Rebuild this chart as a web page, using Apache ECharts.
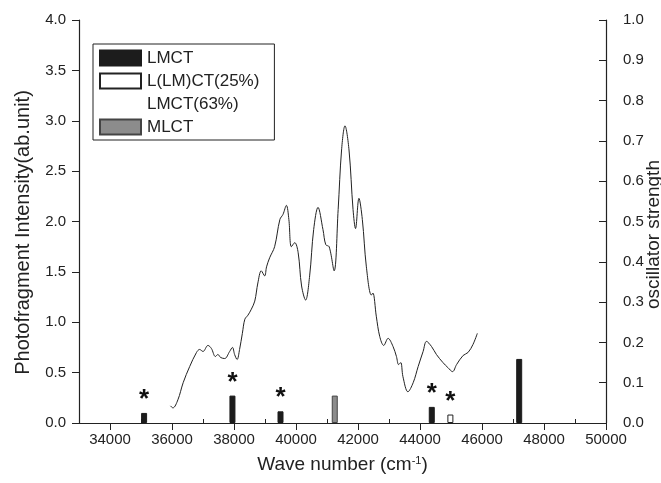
<!DOCTYPE html>
<html>
<head>
<meta charset="utf-8">
<script src="https://cdn.jsdelivr.net/npm/echarts@6/dist/echarts.min.js"></script>
<style>
  html, body { margin: 0; padding: 0; background: #fff; }
  #chart { width: 661px; height: 483px; }
</style>
</head>
<body>
<div id="chart"></div>
<script>
// photofragment spectrum (left axis)
const waveNumbers = [35950, 36030, 36190, 36360, 36570, 36790, 36890, 37000, 37160, 37270,
  37400, 37480, 37570, 37700, 37860, 37950, 38020, 38100, 38180, 38270,
  38350, 38450, 38560, 38670, 38770, 38880, 38990, 39050, 39150, 39310,
  39480, 39580, 39690, 39770, 39850, 39960, 40070, 40180, 40310, 40440,
  40570, 40710, 40870, 40960, 41070, 41230, 41360, 41470, 41580, 41710,
  41840, 41920, 42030, 42140, 42270, 42430, 42480, 42590, 42700, 42830,
  42970, 43130, 43240, 43310, 43380, 43450, 43610, 43780, 43940, 44100,
  44210, 44370, 44530, 44740, 44900, 45050, 45180, 45390, 45550, 45710,
  45850]
const intensity = [0.17, 0.15, 0.23, 0.40, 0.56, 0.70, 0.73, 0.71, 0.77, 0.74,
  0.66, 0.68, 0.65, 0.64, 0.71, 0.75, 0.68, 0.63, 0.73, 0.89,
  1.03, 1.07, 1.13, 1.21, 1.39, 1.51, 1.46, 1.55, 1.64, 1.75,
  2.02, 2.07, 2.16, 2.02, 1.75, 1.79, 1.69, 1.36, 1.22, 1.46,
  1.92, 2.14, 1.92, 1.77, 1.75, 1.51, 2.12, 2.71, 2.95, 2.71,
  2.12, 1.93, 2.23, 2.02, 1.55, 1.27, 1.29, 1.06, 0.86, 0.77,
  0.84, 0.76, 0.66, 0.58, 0.60, 0.46, 0.31, 0.40, 0.56, 0.71,
  0.81, 0.76, 0.68, 0.60, 0.55, 0.51, 0.58, 0.67, 0.70, 0.78,
  0.89]

// calculated transitions (right axis, oscillator strength)
const lmctPos = [35100, 37950, 39500, 44380, 47200]
const lmctF = [0.025, 0.068, 0.029, 0.040, 0.159]
const mixedPos = [44980]
const mixedF = [0.021]
const mlctPos = [41250]
const mlctF = [0.068]
const starred = [35100, 37950, 39500, 44380, 44980]

const xMajor = [34000, 36000, 38000, 40000, 42000, 44000, 46000, 48000, 50000]
const xMinor = [33000, 35000, 37000, 39000, 41000, 43000, 45000, 47000, 49000]

const FONT = 'Liberation Sans, Arial, sans-serif'
const INK = '#222'

function barData(pos, vals) {
  return pos.map((p, i) => {
    const item = { value: [p, vals[i]] }
    if (starred.includes(p)) item.label = { show: true }
    return item
  })
}

const starLabel = {
  show: false,
  position: 'top',
  distance: 0,
  formatter: '*',
  fontSize: 26,
  fontWeight: 'bold',
  fontFamily: FONT,
  color: '#111',
}

const chart = echarts.init(document.getElementById('chart'), null, { renderer: 'canvas' })

chart.setOption({
  animation: false,
  backgroundColor: '#fff',
  textStyle: { fontFamily: FONT, color: INK },
  grid: { left: 79, right: 55, top: 20, bottom: 60, containLabel: false, outerBoundsMode: 'none' },
  legend: {
    left: 93,
    top: 44,
    orient: 'vertical',
    selectedMode: false,
    backgroundColor: '#fff',
    borderColor: INK,
    borderWidth: 1,
    borderRadius: 0,
    padding: [4, 15, 3, 6],
    itemWidth: 41,
    itemHeight: 15,
    itemGap: 3,
    icon: 'rect',
    textStyle: { fontSize: 17, lineHeight: 20, color: INK, fontFamily: FONT, padding: [0, 0, 0, 1] },
    data: [
      { name: 'LMCT' },
      { name: 'L(LM)CT(25%)' },
      { name: 'LMCT(63%)', itemStyle: { color: 'rgba(0,0,0,0)', borderWidth: 0 } },
      { name: 'MLCT' },
    ],
  },
  xAxis: [
    {
      type: 'value',
      min: 33000,
      max: 50000,
      name: 'Wave number (cm{sup|-1})',
      nameLocation: 'middle',
      nameGap: 32,
      nameMoveOverlap: false,
      nameTextStyle: {
        fontSize: 19,
        color: INK,
        rich: { sup: { fontSize: 11, verticalAlign: 'top', lineHeight: 12, color: INK } },
      },
      axisLine: { show: true, lineStyle: { color: INK, width: 1.2 } },
      axisTick: { show: true, length: 7, lineStyle: { color: INK }, customValues: xMajor },
      axisLabel: { fontSize: 15, color: INK, margin: 9, customValues: xMajor, formatter: v => String(v) },
      splitLine: { show: false },
    },
    {
      type: 'value',
      min: 33000,
      max: 50000,
      position: 'bottom',
      axisLine: { show: false },
      axisTick: { show: true, inside: true, length: 4, lineStyle: { color: INK }, customValues: xMinor },
      axisLabel: { show: false },
      splitLine: { show: false },
    },
  ],
  yAxis: [
    {
      type: 'value',
      min: 0,
      max: 4,
      interval: 0.5,
      position: 'left',
      name: 'Photofragment Intensity(ab.unit)',
      nameLocation: 'middle',
      nameGap: 46,
      nameMoveOverlap: false,
      // extra end padding nudges the title a little below the axis middle
      nameTextStyle: { fontSize: 20, color: INK, padding: [0, 22, 0, 0] },
      axisLine: { show: true, lineStyle: { color: INK, width: 1.2 } },
      axisTick: { show: true, length: 7, lineStyle: { color: INK } },
      axisLabel: { fontSize: 15, color: INK, margin: 13, formatter: v => v.toFixed(1) },
      splitLine: { show: false },
    },
    {
      type: 'value',
      min: 0,
      max: 1,
      interval: 0.1,
      position: 'right',
      name: 'oscillator strength',
      nameLocation: 'middle',
      nameGap: 38,
      nameMoveOverlap: false,
      nameRotate: 90,
      nameTextStyle: { fontSize: 19, color: INK, padding: [0, 26, 0, 0] },
      axisLine: { show: true, lineStyle: { color: INK, width: 1.2 } },
      axisTick: { show: true, inside: true, length: 7, lineStyle: { color: INK } },
      axisLabel: { fontSize: 15, color: INK, margin: 17, formatter: v => v.toFixed(1) },
      splitLine: { show: false },
    },
  ],
  series: [
    {
      name: 'spectrum',
      type: 'line',
      xAxisIndex: 0,
      yAxisIndex: 0,
      data: waveNumbers.map((w, i) => [w, intensity[i]]),
      smooth: 0.35,
      showSymbol: false,
      lineStyle: { color: INK, width: 1 },
      z: 3,
    },
    {
      name: 'LMCT',
      type: 'bar',
      xAxisIndex: 0,
      yAxisIndex: 1,
      barWidth: 6,
      barGap: '-100%',
      data: barData(lmctPos, lmctF),
      itemStyle: { color: '#1c1c1c', borderColor: '#1c1c1c', borderWidth: 1 },
      label: starLabel,
    },
    {
      name: 'L(LM)CT(25%)',
      type: 'bar',
      xAxisIndex: 0,
      yAxisIndex: 1,
      barWidth: 6,
      barGap: '-100%',
      data: barData(mixedPos, mixedF),
      itemStyle: { color: '#fff', borderColor: INK, borderWidth: 1 },
      label: starLabel,
    },
    {
      name: 'LMCT(63%)',
      type: 'bar',
      xAxisIndex: 0,
      yAxisIndex: 1,
      barWidth: 6,
      barGap: '-100%',
      data: [],
      itemStyle: { color: 'rgba(0,0,0,0)' },
    },
    {
      name: 'MLCT',
      type: 'bar',
      xAxisIndex: 0,
      yAxisIndex: 1,
      barWidth: 6,
      barGap: '-100%',
      data: barData(mlctPos, mlctF),
      itemStyle: { color: '#8c8c8c', borderColor: '#444', borderWidth: 1 },
      label: starLabel,
    },
  ],
})
</script>
</body>
</html>
